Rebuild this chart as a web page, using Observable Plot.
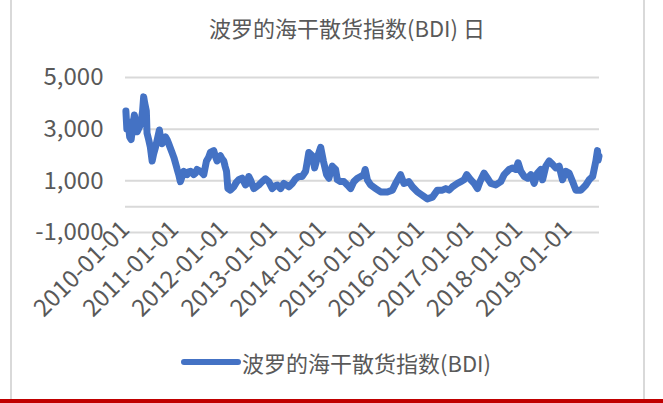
<!DOCTYPE html>
<html><head><meta charset="utf-8">
<script src="https://cdn.jsdelivr.net/npm/d3@7"></script>
<script src="https://cdn.jsdelivr.net/npm/@observablehq/plot@0.6"></script>
<style>
body{margin:0;background:#fff;}
#wrap{position:relative;width:663px;height:403px;overflow:hidden;background:#fff;}
#frame{position:absolute;left:10px;top:-4px;width:635px;height:420px;border:2px solid #d9d9d9;box-sizing:border-box;}
#title{position:absolute;left:0;width:694px;top:13px;text-align:center;font-size:22px;line-height:28px;color:#595959;font-family:"Noto Sans CJK SC",sans-serif;white-space:nowrap;}
#chart{position:absolute;left:0;top:0;}
#legend{position:absolute;left:180px;top:347px;height:30px;display:flex;align-items:center;font-family:"Noto Sans CJK SC",sans-serif;font-size:22px;color:#595959;white-space:nowrap;}
#redline{position:absolute;left:0;top:399px;width:663px;height:4px;background:#c00000;}
</style>
</head><body>
<div id="wrap">
  <div id="frame"></div>
  <div id="title"></div>
  <div id="chart"></div>
  <div id="legend"></div>
  <div id="redline"></div>
</div>
<script>
const titleText = "波罗的海干散货指数(BDI) 日";
const seriesName = "波罗的海干散货指数(BDI)";
const xTickLabels = ["2010-01-01","2011-01-01","2012-01-01","2013-01-01","2014-01-01","2015-01-01","2016-01-01","2017-01-01","2018-01-01","2019-01-01"];
const yTickValues = [5000, 3000, 1000, -1000];
const gridValues = [5000, 3000, 1000, 0, -1000];
const xDomain = ["2010-01-01", "2019-08-26"];
const yDomain = [-1000, 5000];

const dates = [
"2010-01-04","2010-01-11","2010-01-20","2010-02-01","2010-02-12","2010-02-26","2010-03-08","2010-03-20","2010-03-29","2010-04-16",
"2010-04-26","2010-05-08","2010-05-16","2010-05-24","2010-06-05","2010-06-10","2010-06-22","2010-07-05","2010-07-18","2010-07-29",
"2010-08-12","2010-08-24","2010-09-10","2010-09-20","2010-09-30","2010-10-12","2010-10-25","2010-11-06","2010-11-18","2010-12-13",
"2010-12-27","2011-01-07","2011-01-20","2011-02-01","2011-02-13","2011-02-25","2011-03-10","2011-03-22","2011-04-04","2011-04-16",
"2011-04-29","2011-05-23","2011-06-05","2011-06-17","2011-07-12","2011-07-25","2011-08-06","2011-08-26","2011-09-10","2011-09-24",
"2011-10-19","2011-10-31","2011-11-13","2011-11-25","2011-12-08","2011-12-20","2012-01-02","2012-01-12","2012-01-22","2012-02-01",
"2012-02-20","2012-03-16","2012-04-05","2012-04-22","2012-05-17","2012-06-11","2012-06-23","2012-07-05","2012-07-18","2012-08-12",
"2012-09-18","2012-10-13","2012-11-07","2012-12-01","2012-12-27","2013-01-15","2013-02-03","2013-02-27","2013-03-23","2013-04-30",
"2013-05-25","2013-06-18","2013-07-13","2013-08-07","2013-09-01","2013-09-12","2013-09-25","2013-10-21","2013-11-07","2013-12-01",
"2013-12-22","2014-01-11","2014-02-04","2014-02-21","2014-03-18","2014-04-12","2014-04-25","2014-05-19","2014-06-13","2014-07-08",
"2014-08-02","2014-08-26","2014-09-21","2014-10-15","2014-11-08","2014-11-18","2014-12-04","2014-12-28","2015-02-04","2015-03-13",
"2015-05-02","2015-06-08","2015-07-02","2015-08-08","2015-09-02","2015-10-09","2015-11-04","2015-12-11","2016-01-17","2016-02-23",
"2016-04-01","2016-05-08","2016-06-14","2016-07-09","2016-08-03","2016-08-28","2016-10-04","2016-10-29","2016-11-22","2016-12-12",
"2017-01-11","2017-02-05","2017-03-02","2017-03-21","2017-04-20","2017-05-15","2017-06-09","2017-07-16","2017-08-22","2017-09-16",
"2017-10-23","2017-11-17","2017-12-12","2017-12-29","2018-01-18","2018-02-12","2018-03-09","2018-04-03","2018-04-27","2018-05-22",
"2018-06-16","2018-06-29","2018-07-23","2018-08-17","2018-09-11","2018-10-05","2018-10-30","2018-11-24","2018-12-19","2019-01-12",
"2019-02-07","2019-03-03","2019-04-10","2019-05-17","2019-06-10","2019-07-06","2019-07-17","2019-07-30","2019-08-11","2019-08-16",
"2019-08-22"
];
const bdi = [
3700,3000,3300,2700,2600,3200,3550,3100,2900,3100,
3250,3700,4250,4000,3700,2850,2600,2300,1770,2040,
2300,2570,2970,2600,2440,2600,2700,2600,2440,2100,
1900,1700,1450,1240,970,1150,1370,1300,1240,1350,
1370,1240,1300,1440,1370,1300,1240,1770,1900,2100,
2170,1950,1770,1900,1970,1850,1770,1550,1370,700,
640,770,950,1040,1100,840,900,1170,1040,700,
840,970,1080,970,700,800,840,700,900,770,
900,1080,1170,1170,1370,1700,2100,1970,1500,1970,
2300,1770,1240,1100,1570,1440,1040,970,970,840,
700,970,1100,1170,1240,1440,1040,840,700,570,
570,640,900,1240,900,970,770,570,440,300,
370,640,640,700,640,770,900,970,1040,1240,
1040,900,700,970,1300,1100,900,840,970,1240,
1440,1500,1440,1700,1370,1170,1100,1240,900,1300,
1440,1040,1570,1770,1640,1500,1570,1040,1370,1300,
970,640,640,840,1040,1170,1440,1770,2170,1800,
1950
];

const parse = d3.utcParse("%Y-%m-%d");
const data = dates.map((d, i) => ({date: parse(d), value: bdi[i]}));
const tickDates = xTickLabels.map(parse);

document.getElementById("title").textContent = titleText;

const chart = Plot.plot({
  width: 663,
  height: 340,
  marginLeft: 125,
  marginRight: 64,
  marginTop: 77,
  marginBottom: 108,
  style: {fontFamily: "'Noto Sans CJK SC', sans-serif", fontSize: "24px", color: "#595959", background: "transparent", overflow: "visible"},
  x: {type: "utc", domain: xDomain.map(parse), label: null},
  y: {domain: yDomain, label: null},
  marks: [
    Plot.ruleY(gridValues, {stroke: "#d9d9d9", strokeWidth: 2}),
    Plot.axisY(yTickValues, {tickSize: 0, tickPadding: 22, tickFormat: d => d.toLocaleString("en-US"), fill: "#595959", fontSize: 24, label: null}),
    Plot.axisX(tickDates, {tickSize: 0, tickPadding: -7, tickRotate: -45, tickFormat: d3.utcFormat("%Y-%m-%d"), fill: "#595959", fontSize: 24, label: null}),
    Plot.lineY(data, {x: "date", y: "value", stroke: "#4472C4", strokeWidth: 7, strokeLinejoin: "round", strokeLinecap: "round"})
  ]
});
document.getElementById("chart").appendChild(chart);

// legend
const lg = document.getElementById("legend");
const sw = d3.create("svg").attr("width", 62).attr("height", 12);
sw.append("line").attr("x1", 4).attr("x2", 58).attr("y1", 6).attr("y2", 6)
  .attr("stroke", "#4472C4").attr("stroke-width", 6).attr("stroke-linecap", "round");
lg.appendChild(sw.node());
const sp = document.createElement("span");
sp.textContent = seriesName;
lg.appendChild(sp);
</script>
</body></html>
